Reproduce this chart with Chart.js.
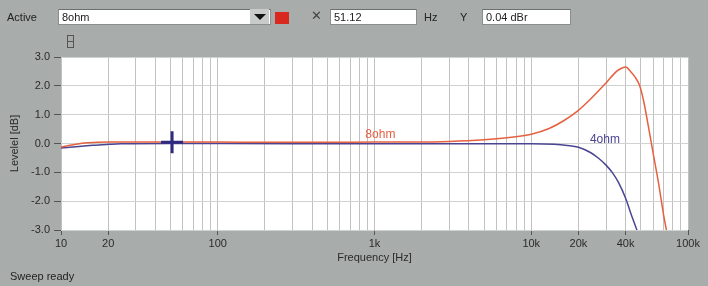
<!DOCTYPE html>
<html>
<head>
<meta charset="utf-8">
<script src="https://cdn.jsdelivr.net/npm/chart.js@4.4.1/dist/chart.umd.min.js"></script>
<style>
  body { margin: 0; background: #a8acab; font-family: 'Liberation Sans', Arial, sans-serif; font-size: 11px; color: #222; }
  #wrap { position: relative; width: 708px; height: 286px; overflow: hidden; }
  canvas { position: absolute; left: 0; top: 0; }
  .t { position: absolute; line-height: 14px; }
  .box { position: absolute; top: 9px; height: 14px; line-height: 14px; background: #fff; border: 1px solid #8a8e8c; border-top-color: #6c706e; padding-left: 3px; }
  #drop-btn { position: absolute; left: 250px; top: 9px; width: 19px; height: 15px; background: #c9cbca; }
  #drop-btn::after { content: ''; position: absolute; left: 4px; top: 5px; border-left: 6px solid transparent; border-right: 6px solid transparent; border-top: 6px solid #111; }
  #swatch { position: absolute; left: 275px; top: 12px; width: 14px; height: 12px; background: #d9291f; }
  #icon { position: absolute; left: 67px; top: 35px; width: 5px; height: 11px; border: 1px solid #555; }
  #icon::after { content: ''; position: absolute; left: 0; top: 5px; width: 5px; height: 1px; background: #555; }
</style>
</head>
<body>
<div id="wrap">
  <canvas id="chart" width="708" height="286"></canvas>
  <div class="t" style="left:7px; top:10px;">Active</div>
  <div class="box" style="left:58px; width:208px;">8ohm</div>
  <div id="drop-btn"></div>
  <div id="swatch"></div>
  <div class="t" style="left:311px; top:9px; font-size:13px; color:#444;">&#x2715;</div>
  <div class="box" style="left:330px; width:82px;">51.12</div>
  <div class="t" style="left:424px; top:10px;">Hz</div>
  <div class="t" style="left:460px; top:10px;">Y</div>
  <div class="box" style="left:482px; width:84px;">0.04 dBr</div>
  <div id="icon"></div>
  <div class="t" style="left:10px; top:269px;">Sweep ready</div>
</div>
<script>
// 8 ohm load response
const freq8 = [10, 12, 14, 17, 20, 50, 100, 200, 500, 1000, 2000, 3000, 5000, 7000, 10000, 13000, 16000, 20000, 24000, 30000, 35000, 38000, 40000, 43000, 46000, 49000, 52000, 55000, 60000, 65000, 70000, 74000];
const level8 = [-0.12, -0.04, 0.02, 0.04, 0.05, 0.05, 0.05, 0.04, 0.04, 0.05, 0.05, 0.07, 0.13, 0.2, 0.32, 0.52, 0.78, 1.15, 1.55, 2.1, 2.5, 2.62, 2.65, 2.5, 2.3, 2.03, 1.5, 0.8, -0.35, -1.4, -2.5, -3.2];

// 4 ohm load response
const freq4 = [10, 13, 16, 20, 24, 50, 100, 1000, 5000, 10000, 14000, 17000, 20000, 24000, 27000, 30000, 33000, 36000, 40000, 44000, 48000];
const level4 = [-0.16, -0.1, -0.06, -0.03, -0.01, 0, 0, -0.01, -0.01, -0.01, -0.03, -0.07, -0.13, -0.32, -0.52, -0.75, -1.02, -1.35, -1.9, -2.55, -3.1];

const seriesNames = ['8ohm', '4ohm'];
const seriesLabelAt = [[1090, 0.3], [29500, 0.12]];

const cursorX = 51.12;
const cursorY = 0.04;

const xTickValues = [10, 20, 100, 1000, 10000, 20000, 40000, 100000];
const xTickLabels = ['10', '20', '100', '1k', '10k', '20k', '40k', '100k'];
const yTicks = [-3, -2, -1, 0, 1, 2, 3];

const textColor = '#2a2a2a';

// minor log grid: 1..9 per decade
const gridTicks = [];
for (let d = 1; d <= 4; d++) {
    for (let m = 1; m <= 9; m++) gridTicks.push(m * 10 ** d);
}
gridTicks.push(100000);

const plotBackground = {
    id: 'plotBackground',
    beforeDraw(chart) {
        const { ctx, chartArea: a } = chart;
        ctx.save();
        ctx.fillStyle = '#ffffff';
        ctx.fillRect(a.left, a.top, a.right - a.left, a.bottom - a.top);
        ctx.restore();
    },
};

const seriesLabels = {
    id: 'seriesLabels',
    afterDatasetsDraw(chart) {
        const { ctx, scales: { x, y } } = chart;
        ctx.save();
        ctx.font = '12px "Liberation Sans", Arial, sans-serif';
        ctx.textAlign = 'center';
        ctx.textBaseline = 'middle';
        seriesNames.forEach((name, i) => {
            const ds = chart.data.datasets.find(d => d.label === name);
            ctx.fillStyle = ds.borderColor;
            ctx.fillText(name, x.getPixelForValue(seriesLabelAt[i][0]), y.getPixelForValue(seriesLabelAt[i][1]));
        });
        ctx.restore();
    },
};

const toPoints = (xs, ys) => xs.map((f, i) => ({ x: f, y: ys[i] }));

new Chart(document.getElementById('chart'), {
    type: 'line',
    data: {
        datasets: [
            {
                label: 'cursor',
                data: [{ x: cursorX, y: cursorY }],
                showLine: false,
                pointStyle: 'cross',
                pointRadius: 11,
                pointBorderWidth: 3,
                borderColor: '#2f2a80',
                order: 0,
            },
            {
                label: seriesNames[0],
                data: toPoints(freq8, level8),
                borderColor: '#e5603f',
                borderWidth: 1.5,
                pointRadius: 0,
                cubicInterpolationMode: 'monotone',
                order: 1,
            },
            {
                label: seriesNames[1],
                data: toPoints(freq4, level4),
                borderColor: '#4a4592',
                borderWidth: 1.5,
                pointRadius: 0,
                cubicInterpolationMode: 'monotone',
                order: 2,
            },
        ],
    },
    options: {
        responsive: false,
        animation: false,
        layout: { padding: { top: 57, right: 20, bottom: 20, left: 0 } },
        plugins: {
            legend: { display: false },
            tooltip: { enabled: false },
        },
        scales: {
            x: {
                type: 'logarithmic',
                min: 10,
                max: 100000,
                afterBuildTicks(scale) { scale.ticks = gridTicks.map(v => ({ value: v })); },
                afterFit(scale) { scale.height = 36; },
                ticks: {
                    autoSkip: false,
                    maxRotation: 0,
                    padding: 2,
                    color: textColor,
                    font: { size: 11, family: '"Liberation Sans", Arial, sans-serif' },
                    callback(v) {
                        const i = xTickValues.indexOf(v);
                        return i < 0 ? '' : xTickLabels[i];
                    },
                },
                grid: {
                    color: '#c0c2c2',
                    tickLength: 5,
                    tickColor: ctx => (ctx.tick && xTickValues.includes(ctx.tick.value) ? '#555' : 'rgba(0,0,0,0)'),
                },
                border: { display: false },
                title: {
                    display: true,
                    text: 'Frequency [Hz]',
                    color: textColor,
                    font: { size: 11, family: '"Liberation Sans", Arial, sans-serif' },
                    padding: { top: 0, bottom: 1 },
                },
            },
            y: {
                min: -3,
                max: 3,
                afterBuildTicks(scale) { scale.ticks = yTicks.map(v => ({ value: v })); },
                afterFit(scale) { scale.width = 61; },
                ticks: {
                    padding: 4,
                    color: textColor,
                    font: { size: 11, family: '"Liberation Sans", Arial, sans-serif' },
                    callback: v => v.toFixed(1),
                },
                grid: { color: '#d0d2d2', tickLength: 7, tickColor: '#555' },
                border: { display: false },
                title: {
                    display: true,
                    text: 'Levelel [dB]',
                    color: textColor,
                    font: { size: 11, family: '"Liberation Sans", Arial, sans-serif' },
                    padding: { top: 8, bottom: 0 },
                },
            },
        },
    },
    plugins: [plotBackground, seriesLabels],
});
</script>
</body>
</html>
